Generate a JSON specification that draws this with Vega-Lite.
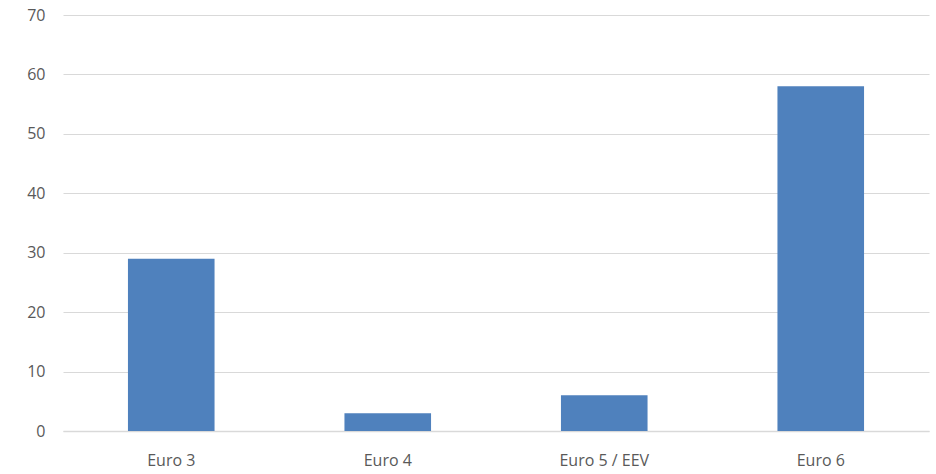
{
  "$schema": "https://vega.github.io/schema/vega-lite/v6.json",
  "autosize": "none",
  "width": 866,
  "height": 416,
  "padding": {"left": 63, "top": 15, "right": 7, "bottom": 43},
  "background": "white",
  "config": {"view": {"stroke": null}, "font": "Open Sans"},
  "data": {"values": [
    {"standard": "Euro 3", "value": 29},
    {"standard": "Euro 4", "value": 3},
    {"standard": "Euro 5 / EEV", "value": 6},
    {"standard": "Euro 6", "value": 58}
  ]},
  "mark": {"type": "bar", "color": "#4F81BD"},
  "encoding": {
    "x": {"field": "standard", "type": "nominal", "sort": null,
      "scale": {"paddingInner": 0.6, "paddingOuter": 0.3},
      "axis": {"title": null, "labelAngle": 0, "labelFontSize": 16, "labelColor": "#595959",
        "labelPadding": 21, "ticks": false, "domainColor": "#D9D9D9", "domainWidth": 1.5}},
    "y": {"field": "value", "type": "quantitative",
      "scale": {"domain": [0, 70]},
      "axis": {"title": null, "values": [0,10,20,30,40,50,60,70], "labelFontSize": 16, "labelColor": "#595959",
        "labelPadding": 18, "ticks": false, "domain": false, "gridColor": "#D9D9D9", "gridWidth": 1.2}}
  }
}
